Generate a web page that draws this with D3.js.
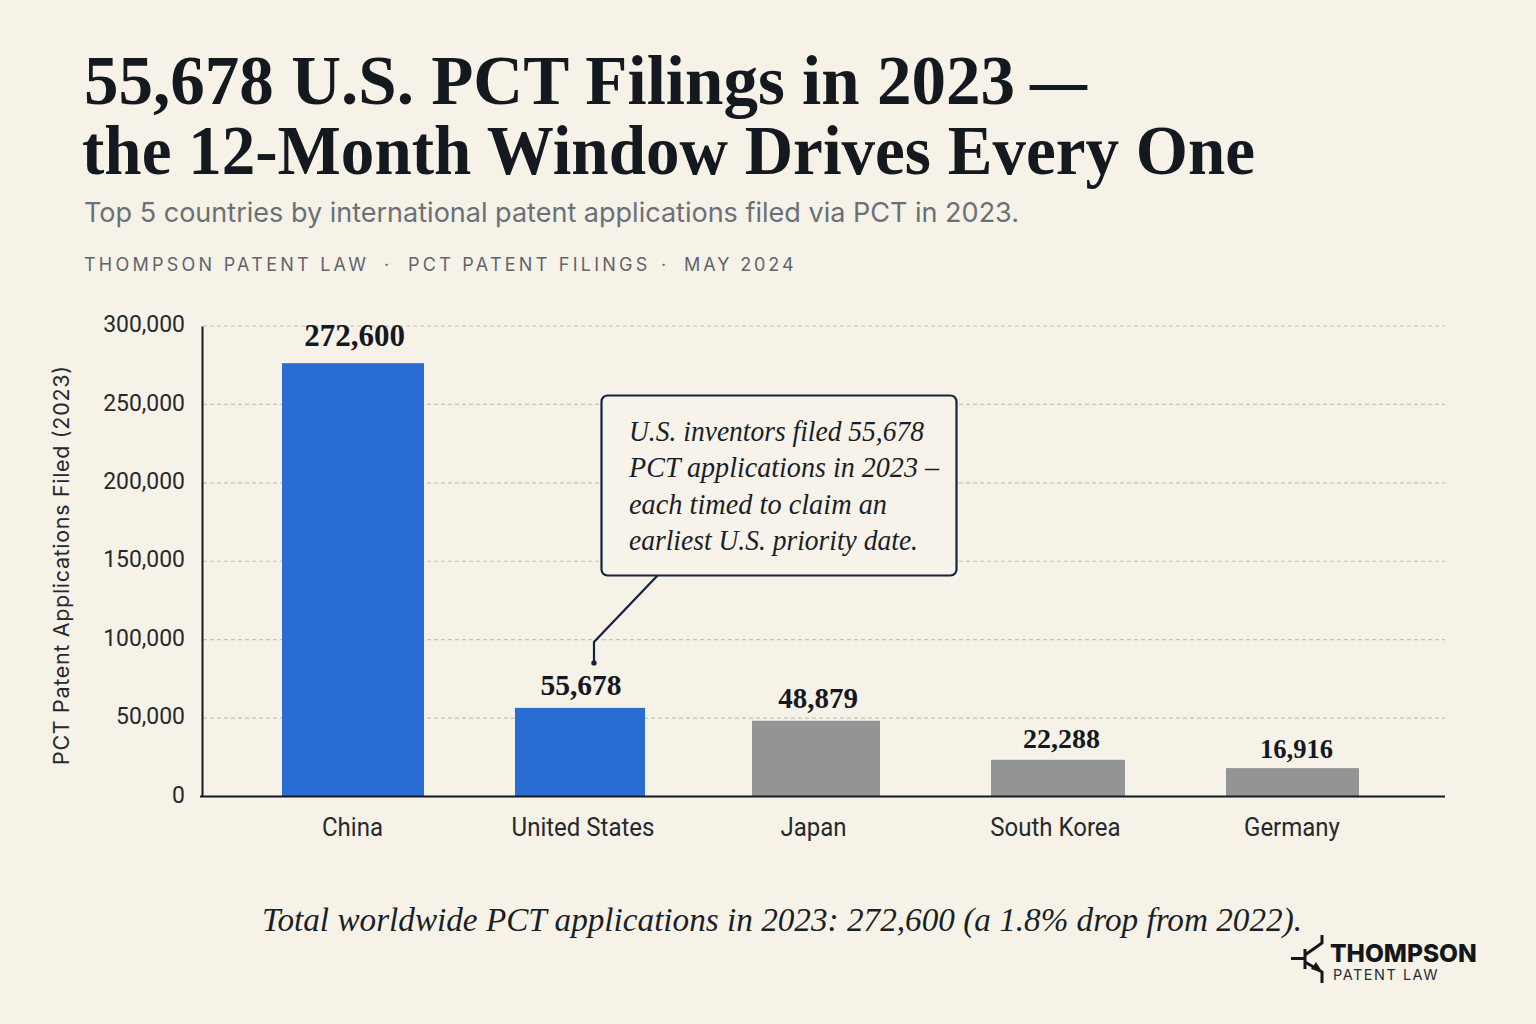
<!DOCTYPE html>
<html><head><meta charset="utf-8">
<script src="https://cdnjs.cloudflare.com/ajax/libs/d3/7.8.5/d3.min.js"></script>
<style>
html,body{margin:0;padding:0;background:#f6f2e8;}
svg{display:block;}
</style></head><body>
<svg id="c" width="1536" height="1024"></svg>
<script>
const categories = ["China","United States","Japan","South Korea","Germany"];
const barValues = [276300,56500,48300,23400,18100];
const valueLabels = ["272,600","55,678","48,879","22,288","16,916"];
const tickValues = [0,50000,100000,150000,200000,250000,300000];
const highlighted = ["China","United States"];
const titleParts = ["55,678 U.S. PCT Filings in 2023","—","the 12-Month Window Drives Every One"];
const subtitle = "Top 5 countries by international patent applications filed via PCT in 2023.";
const kickerParts = ["THOMPSON PATENT LAW","·","PCT PATENT FILINGS","·","MAY 2024"];
const calloutLines = ["U.S. inventors filed 55,678","PCT applications in 2023 –","each timed to claim an","earliest U.S. priority date."];
const footnote = "Total worldwide PCT applications in 2023: 272,600 (a 1.8% drop from 2022).";
const yAxisTitle = "PCT Patent Applications Filed (2023)";

const SERIF = "'Liberation Serif',serif", SANS = "Roboto,'Noto Sans',sans-serif", UI="Inter,'Noto Sans',sans-serif";
const INK="#14191f", NAVY="#12233f";
const svg = d3.select("#c");
svg.append("rect").attr("width",1536).attr("height",1024).attr("fill","#f6f2e8");

function squeeze(sel,k){ sel.each(function(){ const n=this.getComputedTextLength();
  d3.select(this).attr("textLength",n*k).attr("lengthAdjust","spacingAndGlyphs"); }); return sel; }

const titleX=[84,1030,82], titleY=[104,104,174], titleW=[931,57,1173];
svg.selectAll("text.title").data(titleParts).join("text").attr("class","title")
  .attr("x",(d,i)=>titleX[i]).attr("y",(d,i)=>titleY[i]).text(d=>d)
  .attr("textLength",(d,i)=>titleW[i]).attr("lengthAdjust","spacingAndGlyphs")
  .attr("font-family",SERIF).attr("font-weight",700).attr("font-size",70).attr("fill",INK);
svg.append("text").attr("x",84).attr("y",222).text(subtitle).attr("font-family",UI).attr("font-size",27).attr("textLength",935).attr("lengthAdjust","spacingAndGlyphs").attr("fill","#6a7075");
const kickerX=[84,384,408,661,684];
svg.selectAll("text.kick").data(kickerParts).join("text").attr("class","kick")
  .attr("x",(d,i)=>kickerX[i]).attr("y",271).text(d=>d).attr("font-family",UI).attr("font-size",18).attr("letter-spacing",(d,i)=>i==4?2.9:3.25).attr("fill","#5e656b");

const y = d3.scaleLinear().domain([0,300000]).range([796.5,326]);
const xBar = d3.scaleOrdinal().domain(categories).range([353,580,816,1058,1292.5]);
const wBar = d3.scaleOrdinal().domain(categories).range([142,130,128,134,133]);
const xLab = d3.scaleOrdinal().domain(categories).range([352.5,583,813.5,1055.5,1292]);
const xVal = d3.scaleOrdinal().domain(categories).range([354.5,581,818,1061.5,1296.5]);

// grid
svg.append("g").selectAll("line").data(tickValues.filter(d=>d>0)).join("line")
  .attr("x1",203).attr("x2",1445).attr("y1",d=>y(d)).attr("y2",d=>y(d))
  .attr("stroke","#c4c3ba").attr("stroke-width",1.2).attr("stroke-dasharray","4 3");
// y axis
const ax = d3.axisLeft(y).tickValues(tickValues).tickFormat(d3.format(",")).tickSize(0).tickPadding(17);
const gy = svg.append("g").attr("transform","translate(202,0)").call(ax);
gy.select(".domain").attr("stroke","#14191f").attr("stroke-width",2);
gy.selectAll("text").attr("font-family",SANS).attr("font-size",24).attr("fill","#26292c").attr("dy","0.32em")
  .attr("transform","translate(0,-2)");
squeeze(gy.selectAll("text"),0.955);
// bars
svg.append("g").selectAll("rect").data(categories).join("rect")
  .attr("x",d=>xBar(d)-wBar(d)/2).attr("width",d=>wBar(d))
  .attr("y",(d,i)=>y(barValues[i])).attr("height",(d,i)=>y(0)-y(barValues[i]))
  .attr("fill",d=>highlighted.includes(d)?"#296dd3":"#929496");
// baseline
svg.append("line").attr("x1",200).attr("x2",1445).attr("y1",y(0)).attr("y2",y(0)).attr("stroke",INK).attr("stroke-width",2);
// value labels
const labelSize=[31,29.5,29,28,26.5], labelGap=[17,13,13,12,10];
svg.append("g").selectAll("text").data(categories).join("text")
  .attr("x",d=>xVal(d)).attr("y",(d,i)=>y(barValues[i])-labelGap[i])
  .attr("text-anchor","middle").text((d,i)=>valueLabels[i])
  .attr("font-family",SERIF).attr("font-weight",700).attr("font-size",(d,i)=>labelSize[i]).attr("fill",INK);
// cat labels
squeeze(svg.append("g").selectAll("text").data(categories).join("text")
  .attr("x",d=>xLab(d)).attr("y",836).attr("text-anchor","middle").text(d=>d)
  .attr("font-family",SANS).attr("font-size",25).attr("fill","#26292c"),0.96);
// axis title
svg.append("text").attr("transform","translate(69,565.5) rotate(-90)").attr("text-anchor","middle")
  .text(yAxisTitle).attr("font-family",UI).attr("font-size",21.5).attr("textLength",399).attr("fill","#26292c");
// callout
const usTop = y(barValues[1]);
const leader = d3.line()([[658,575],[594,642],[594,usTop-45]]);
svg.append("path").attr("d",leader).attr("fill","none").attr("stroke",NAVY).attr("stroke-width",2.2);
svg.append("circle").attr("cx",594).attr("cy",usTop-45).attr("r",2.7).attr("fill",NAVY);
svg.append("rect").attr("x",601.5).attr("y",395.5).attr("width",355).attr("height",180).attr("rx",6)
  .attr("fill","#f7f3ea").attr("stroke",NAVY).attr("stroke-width",2.2);
const calloutW=[295,310,258,289];
svg.selectAll("text.co").data(calloutLines).join("text").attr("class","co")
  .attr("x",629).attr("y",(d,i)=>441+i*36.3).text(d=>d)
  .attr("textLength",(d,i)=>calloutW[i]).attr("lengthAdjust","spacingAndGlyphs")
  .attr("font-family",SERIF).attr("font-style","italic").attr("font-size",29.5).attr("fill","#1a1f26");
// footnote
svg.append("text").attr("x",782).attr("y",931).attr("text-anchor","middle").text(footnote)
  .attr("font-family",SERIF).attr("font-style","italic").attr("font-size",34).attr("textLength",1040).attr("lengthAdjust","spacingAndGlyphs").attr("fill","#1a1f26");
// logo
const lg=svg.append("g").attr("fill","none").attr("stroke","#14171a").attr("stroke-width",3);
lg.append("path").attr("d","M1291 958.5H1305M1305 949V969M1305 955L1322 943V935M1305 962L1322 972V983");
svg.append("path").attr("d","M1323 973L1311 969L1316 962Z").attr("fill","#14171a");
svg.append("text").attr("x",1330).attr("y",962).text("THOMPSON").attr("font-family",UI).attr("font-weight",800).attr("font-size",24.5).attr("fill","#14171a");
svg.append("text").attr("x",1333).attr("y",979.5).text("PATENT LAW").attr("font-family",UI).attr("font-size",14.5).attr("letter-spacing",1.5).attr("fill","#2a2d30");
</script></body></html>
